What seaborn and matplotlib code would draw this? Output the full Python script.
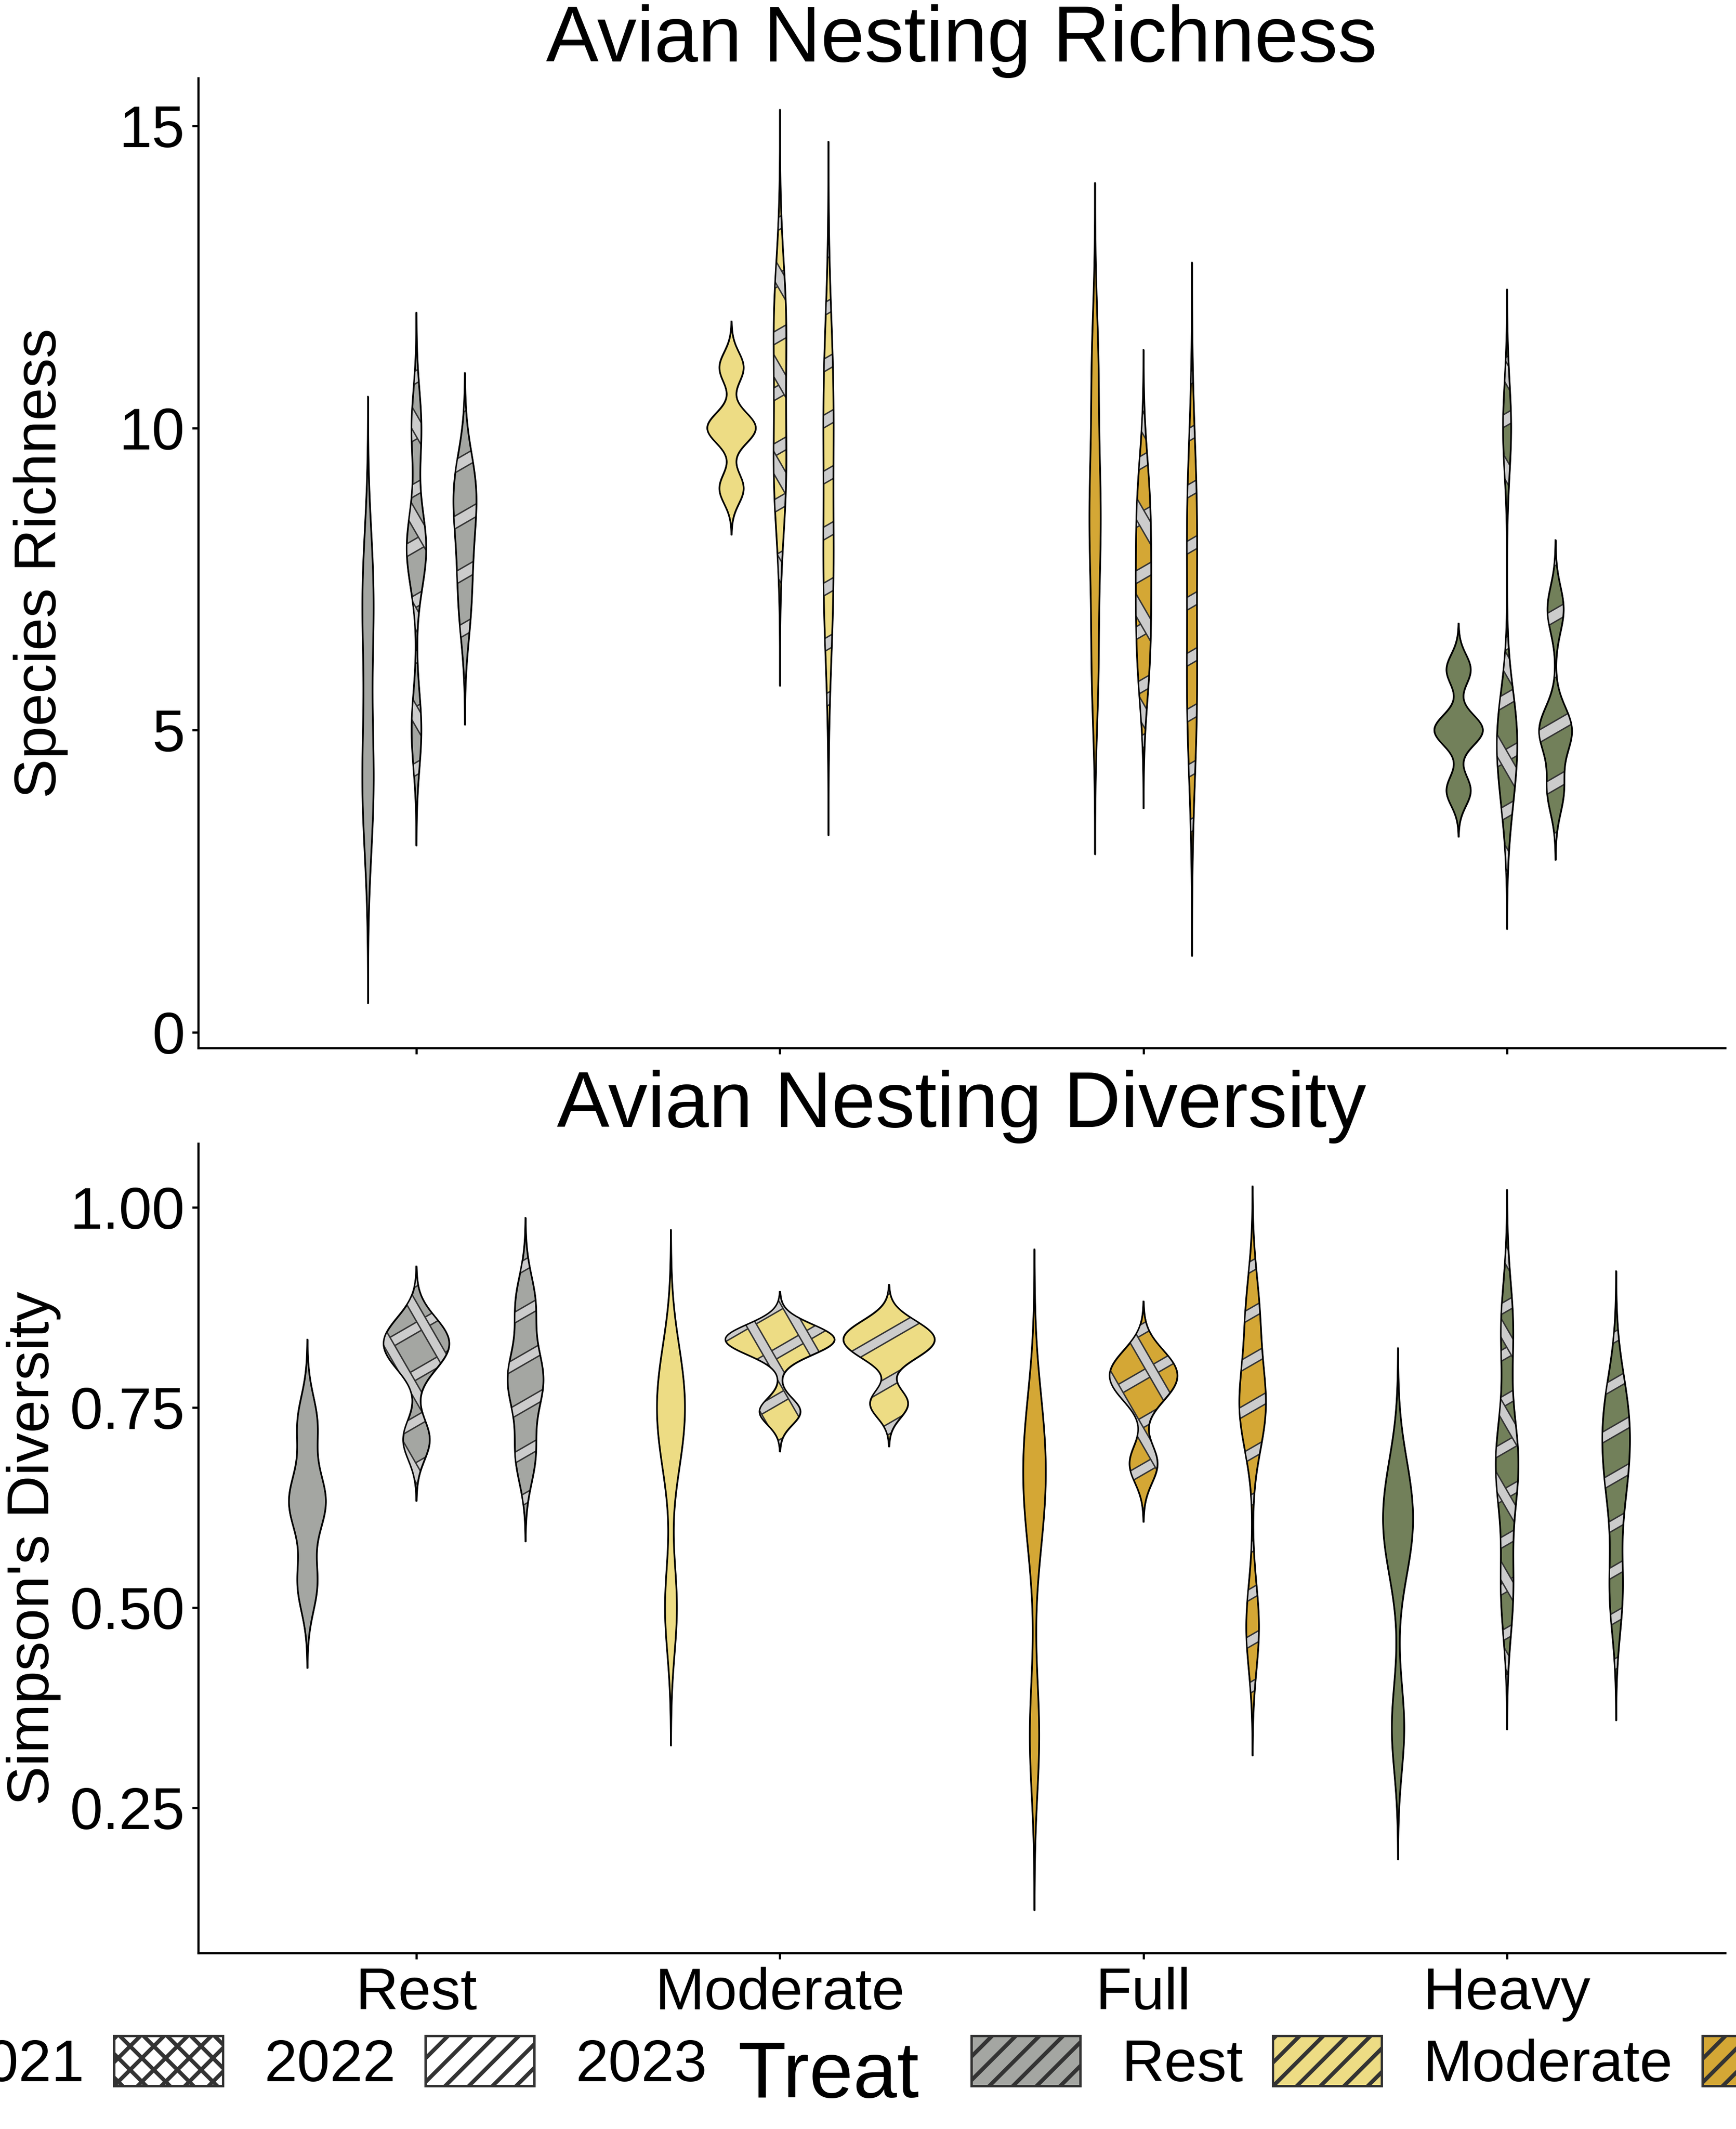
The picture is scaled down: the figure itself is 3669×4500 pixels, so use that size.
import numpy as np
import pandas as pd
import matplotlib
matplotlib.use("Agg")
import matplotlib.pyplot as plt
import seaborn as sns
from matplotlib.path import Path
from matplotlib.collections import LineCollection
from matplotlib.patches import PathPatch, Patch

# ---------------- data ----------------
treats = ["Rest", "Moderate", "Full", "Heavy"]
years = ["2021", "2022", "2023"]
treat_colors = ["#A4A6A2", "#EDDC84", "#D4A735", "#72805A"]
year_patterns = ["none", "crosshatch", "stripe"]

# Species richness observations
rich_rest_2021 = [3, 3, 4, 4, 4, 4, 4, 5, 5, 5, 6, 6, 7, 7, 7, 7, 7, 8, 8, 8]
rich_rest_2022 = [5, 8, 8, 10]
rich_rest_2023 = [7, 8, 9, 9]
rich_moderate_2021 = [9, 10, 10, 11]
rich_moderate_2022 = [8, 9, 9, 9, 9, 10, 10, 10, 11, 11, 11, 12, 12, 12, 12, 13]
rich_moderate_2023 = [7, 8, 10, 11]
rich_full_2021 = [6, 8, 9, 11]
rich_full_2022 = [6, 7, 8, 9]
rich_full_2023 = [5, 6, 8, 9]
rich_heavy_2021 = [4, 5, 5, 6]
rich_heavy_2022 = [4, 5, 5, 10]
rich_heavy_2023 = [4, 5, 5, 7]

# Simpson's diversity observations
simp_rest_2021 = [0.53, 0.62, 0.645, 0.73]
simp_rest_2022 = [0.71, 0.81, 0.83, 0.85]
simp_rest_2023 = [0.69, 0.77, 0.80, 0.88]
simp_moderate_2021 = [0.50, 0.70, 0.75, 0.80]
simp_moderate_2022 = [0.745, 0.825, 0.835, 0.845]
simp_moderate_2023 = [0.755, 0.82, 0.835, 0.85]
simp_full_2021 = [0.34, 0.61, 0.67, 0.73]
simp_full_2022 = [0.68, 0.77, 0.79, 0.81]
simp_full_2023 = [0.476, 0.745, 0.755, 0.866]
simp_heavy_2021 = [0.35, 0.57, 0.61, 0.66]
simp_heavy_2022 = [0.52, 0.66, 0.70, 0.85]
simp_heavy_2023 = [0.52, 0.65, 0.71, 0.76]

rich_groups = {
    ("Rest", "2021"): rich_rest_2021, ("Rest", "2022"): rich_rest_2022, ("Rest", "2023"): rich_rest_2023,
    ("Moderate", "2021"): rich_moderate_2021, ("Moderate", "2022"): rich_moderate_2022,
    ("Moderate", "2023"): rich_moderate_2023,
    ("Full", "2021"): rich_full_2021, ("Full", "2022"): rich_full_2022, ("Full", "2023"): rich_full_2023,
    ("Heavy", "2021"): rich_heavy_2021, ("Heavy", "2022"): rich_heavy_2022, ("Heavy", "2023"): rich_heavy_2023,
}
simp_groups = {
    ("Rest", "2021"): simp_rest_2021, ("Rest", "2022"): simp_rest_2022, ("Rest", "2023"): simp_rest_2023,
    ("Moderate", "2021"): simp_moderate_2021, ("Moderate", "2022"): simp_moderate_2022,
    ("Moderate", "2023"): simp_moderate_2023,
    ("Full", "2021"): simp_full_2021, ("Full", "2022"): simp_full_2022, ("Full", "2023"): simp_full_2023,
    ("Heavy", "2021"): simp_heavy_2021, ("Heavy", "2022"): simp_heavy_2022, ("Heavy", "2023"): simp_heavy_2023,
}


def to_frame(groups, col):
    rows = []
    for (t, y), vals in groups.items():
        for v in vals:
            rows.append({"Treat": t, "Year": y, col: v})
    return pd.DataFrame(rows)


df_rich = to_frame(rich_groups, "Richness")
df_simp = to_frame(simp_groups, "Simpson")


def nrd0(kde):
    """R's bw.nrd0 bandwidth expressed as a scipy kde factor."""
    x = np.asarray(kde.dataset).ravel()
    sd = np.std(x, ddof=1)
    q75, q25 = np.percentile(x, [75, 25])
    lo = min(sd, (q75 - q25) / 1.34)
    if lo <= 0:
        lo = sd if sd > 0 else (abs(x[0]) if x[0] != 0 else 1.0)
    bw = 0.9 * lo * len(x) ** (-0.2)
    return bw / sd if sd > 0 else bw


# ---------------- style ----------------
plt.rcParams["font.family"] = ["Liberation Sans", "DejaVu Sans"]
plt.rcParams["hatch.linewidth"] = 2.0
PAT_FILL = "#CCCCCC"
PAT_EDGE = "#333333"
OUTLINE_LW = 0.75
PX2PT = 72.0 / 300.0

fig = plt.figure(figsize=(3669 / 300, 4500 / 300), dpi=300)
ax1 = fig.add_axes([0.11420, 0.50778, 0.87953, 0.45555])
ax2 = fig.add_axes([0.11420, 0.08256, 0.87953, 0.38033])


def add_stripes(ax, verts, codes, angles, spacing, band, zbase):
    clip = Path(verts, codes)
    pix = ax.transData.transform(verts)
    (xmin, ymin), (xmax, ymax) = pix.min(0), pix.max(0)
    ctr = np.array([(xmin + xmax) / 2, (ymin + ymax) / 2])
    L = np.hypot(xmax - xmin, ymax - ymin) + 20
    corners = np.array([[xmin, ymin], [xmin, ymax], [xmax, ymin], [xmax, ymax]])
    inv = ax.transData.inverted()
    z = zbase
    for ang in angles:
        th = np.deg2rad(ang)
        d = np.array([np.cos(th), np.sin(th)])
        n = np.array([-np.sin(th), np.cos(th)])
        proj = corners @ n
        k0 = int(np.floor(proj.min() / spacing)) - 1
        k1 = int(np.ceil(proj.max() / spacing)) + 1
        segs = []
        for k in range(k0, k1 + 1):
            p0 = ctr + (k * spacing - ctr @ n) * n
            segs.append(inv.transform(np.array([p0 - L * d, p0 + L * d])))
        for color, lw_px in ((PAT_EDGE, band + 6.0), (PAT_FILL, band)):
            lc = LineCollection(segs, colors=color, linewidths=lw_px * PX2PT,
                                capstyle="butt", zorder=z)
            lc.set_clip_path(clip, ax.transData)
            ax.add_collection(lc, autolim=False)
            z += 0.01


def draw_panel(ax, df, ycol, width, ylim, yticks, yticklabels, title, title_pad, ylabel, ylabel_x):
    sns.violinplot(data=df, x="Treat", y=ycol, hue="Year", order=treats, hue_order=years,
                   dodge=True, width=width, gap=0, cut=3, gridsize=512, bw_method=nrd0,
                   density_norm="area", common_norm=True, inner=None,
                   linewidth=OUTLINE_LW, linecolor="black",
                   palette=["white", "white", "white"], saturation=1, legend=False, ax=ax)
    ax.set_xlim(-0.6, 3.6)
    ax.set_ylim(*ylim)
    panel_h = ax.get_window_extent().height
    spacing = 0.05 * panel_h
    band = 0.2 * spacing
    hue_w = width / len(years)
    for coll in list(ax.collections):
        path = coll.get_paths()[0]
        v = path.vertices
        cx = 0.5 * (v[:, 0].min() + v[:, 0].max())
        ti = int(round(cx))
        yi = int(round((cx - ti) / hue_w)) + 1
        coll.set_facecolor(treat_colors[ti])
        coll.set_edgecolor("black")
        coll.set_zorder(1)
        pat = year_patterns[yi]
        if pat == "stripe":
            add_stripes(ax, v, path.codes, [30], spacing, band, 1.1)
        elif pat == "crosshatch":
            add_stripes(ax, v, path.codes, [30, 120], spacing, band, 1.1)
        ax.add_patch(PathPatch(Path(v, path.codes), facecolor="none", edgecolor="black",
                               linewidth=OUTLINE_LW, zorder=2))
    ax.set_xlim(-0.6, 3.6)
    ax.set_ylim(*ylim)
    ax.set_yticks(yticks)
    ax.set_yticklabels(yticklabels)
    ax.set_xticks(range(len(treats)))
    ax.set_xticklabels(treats)
    for side in ("top", "right"):
        ax.spines[side].set_visible(False)
    for side in ("left", "bottom"):
        ax.spines[side].set_color("black")
        ax.spines[side].set_linewidth(1.1)
    ax.tick_params(axis="both", direction="out", length=3.2, width=1.1, color="black",
                   labelsize=30, labelcolor="black", pad=3.6)
    ax.set_xlabel("")
    ax.set_ylabel(ylabel, fontsize=30, color="black")
    ax.yaxis.set_label_coords(ylabel_x, 0.5)
    ax.set_title(title, fontsize=40, pad=title_pad, color="black")
    ax.set_facecolor("white")


draw_panel(ax1, df_rich, "Richness", 0.4, (-0.26, 15.79), [0, 5, 10, 15],
           ["0", "5", "10", "15"], "Avian Nesting Richness", 5.3, "Species Richness", -0.0852)
ax1.tick_params(axis="x", labelbottom=False)

draw_panel(ax2, df_simp, "Simpson", 0.9, (0.0686, 1.0798), [0.25, 0.50, 0.75, 1.00],
           ["0.25", "0.50", "0.75", "1.00"], "Avian Nesting Diversity", 6.7,
           "Simpson's Diversity", -0.0899)

# ---------------- legends ----------------
year_hatches = ["", "xx", "//"]
year_handles = [Patch(facecolor="white", edgecolor=PAT_EDGE, linewidth=1.2, hatch=h)
                for h in year_hatches]
treat_handles = [Patch(facecolor=c, edgecolor=PAT_EDGE, linewidth=1.2, hatch="//")
                 for c in treat_colors]

leg_kw = dict(loc="center left", bbox_transform=fig.transFigure, frameon=False, fontsize=30,
              handlelength=1.84, handleheight=0.92, handletextpad=0.7, columnspacing=0.5,
              borderpad=0, borderaxespad=0)
leg_year = fig.legend(year_handles, years, ncol=3, bbox_to_anchor=(-0.1137, 0.0302), **leg_kw)
leg_treat = fig.legend(treat_handles, treats, ncol=4, bbox_to_anchor=(0.5596, 0.0302), **leg_kw)
fig.text(0.4249, 0.0149, "Treat", fontsize=40, ha="left", va="baseline", color="black")

fig.savefig("out.png", dpi=300, facecolor="white")
